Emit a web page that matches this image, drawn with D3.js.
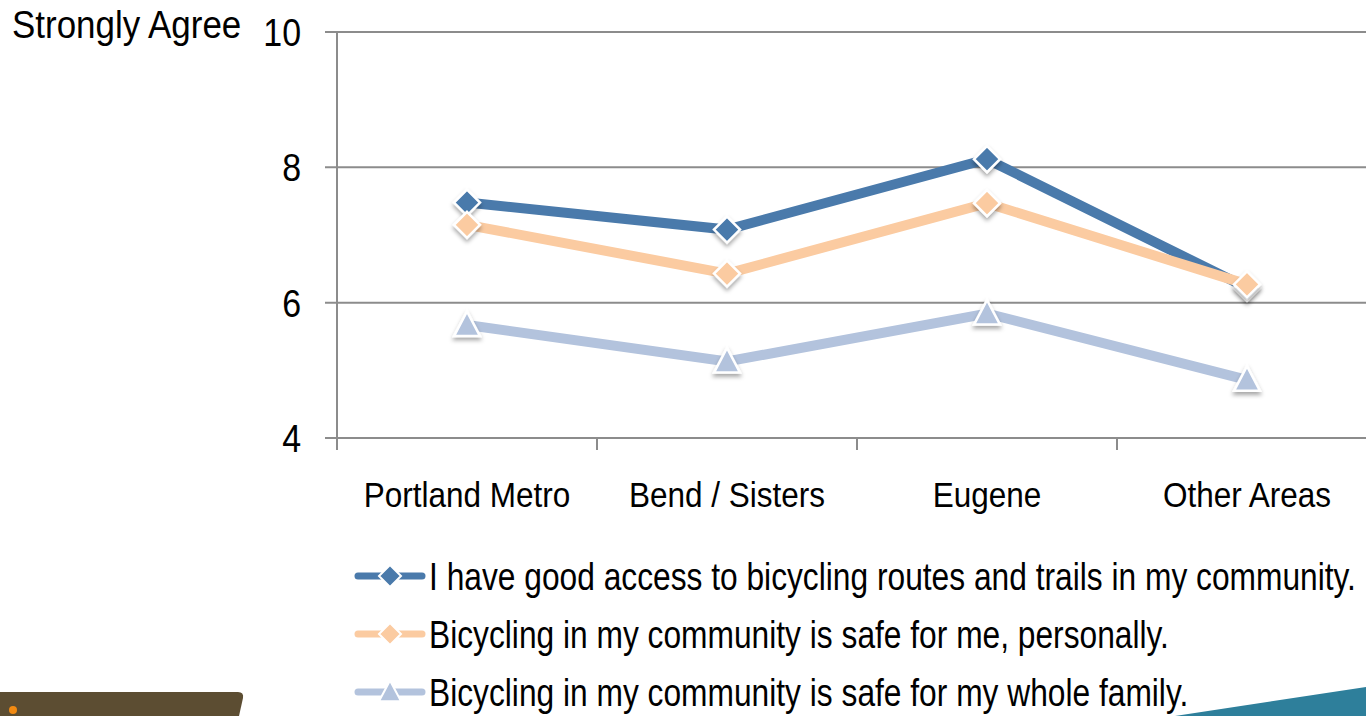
<!DOCTYPE html>
<html>
<head>
<meta charset="utf-8">
<script src="https://cdn.jsdelivr.net/npm/d3@7"></script>
<style>
  html, body { margin: 0; padding: 0; background: #fff; overflow: hidden; }
  svg { display: block; font-family: "Liberation Sans", Arial, sans-serif; }
</style>
</head>
<body>
<svg id="chart" width="1366" height="716"></svg>
<script>
const regions = ["Portland Metro", "Bend / Sisters", "Eugene", "Other Areas"];
const access = [7.48, 7.08, 8.12, 6.22];
const safeMe = [7.15, 6.43, 7.47, 6.27];
const safeFamily = [5.67, 5.13, 5.84, 4.86];
const yTicks = [4, 6, 8, 10];

const series = [
  {name: "I have good access to bicycling routes and trails in my community.", values: access, color: "#4a7aab", shape: "diamond"},
  {name: "Bicycling in my community is safe for me, personally.", values: safeMe, color: "#fbcba1", shape: "diamond"},
  {name: "Bicycling in my community is safe for my whole family.", values: safeFamily, color: "#b3c3dd", shape: "triangle"}
];

const svg = d3.select("#chart");
const plotLeft = 337, plotTop = 32, plotBottom = 438;

const x = d3.scaleBand().domain(regions).range([plotLeft, plotLeft + 1040]);
const y = d3.scaleLinear().domain([4, 10]).range([plotBottom, plotTop]);
const cx = (d, i) => x(regions[i]) + x.bandwidth() / 2;

// marker outline, r = half width
const marker = (shape, r) => shape === "triangle"
  ? `M0,${-r * 1.05}L${r},${r * 0.85}L${-r},${r * 0.85}Z`
  : `M0,${-r}L${r},0L0,${r}L${-r},0Z`;

// the source text is a condensed sans, so squeeze Liberation Sans sideways
const narrowText = (sel, px, py, sx) => sel.attr("transform", `translate(${px},${py}) scale(${sx},1)`);

const defs = svg.append("defs");
const f = defs.append("filter").attr("id", "shadow").attr("x", "-50%").attr("y", "-50%").attr("width", "200%").attr("height", "200%");
f.append("feDropShadow").attr("dx", 0).attr("dy", 3).attr("stdDeviation", 2).attr("flood-color", "#000").attr("flood-opacity", 0.35);

// slide decoration
svg.append("path")
  .attr("d", "M0,692 L238,692 Q244,692 243,698 L239,716 L0,716 Z")
  .attr("fill", "#5c4d32");
svg.append("circle").attr("cx", 13).attr("cy", 710).attr("r", 4).attr("fill", "#f28a12");
svg.append("path")
  .attr("d", "M1175,716 L1366,687 L1366,716 Z")
  .attr("fill", "#2e7f9b");

// grid
svg.append("g").selectAll("line")
  .data(yTicks)
  .enter().append("line")
    .attr("x1", plotLeft - 12).attr("x2", 1366)
    .attr("y1", d => y(d)).attr("y2", d => y(d))
    .attr("stroke", "#8c8c8c").attr("stroke-width", 2);

svg.append("line")
  .attr("x1", plotLeft).attr("x2", plotLeft)
  .attr("y1", y(10)).attr("y2", plotBottom + 12)
  .attr("stroke", "#8c8c8c").attr("stroke-width", 2);

svg.append("g").selectAll("line")
  .data(regions.map(r => x(r)).concat([x(regions[regions.length - 1]) + x.bandwidth()]))
  .enter().append("line")
    .attr("x1", d => d).attr("x2", d => d)
    .attr("y1", plotBottom).attr("y2", plotBottom + 12)
    .attr("stroke", "#8c8c8c").attr("stroke-width", 2);

// y tick labels
svg.append("g").selectAll("text")
  .data(yTicks)
  .enter().append("text")
    .each(function(d) { narrowText(d3.select(this), 301, y(d), 0.87); })
    .attr("dy", "0.36em")
    .attr("text-anchor", "end")
    .attr("font-size", 39)
    .text(d => d);

narrowText(svg.append("text"), 12, 38, 0.92)
  .attr("font-size", 38)
  .text("Strongly Agree");

// x labels
svg.append("g").selectAll("text")
  .data(regions)
  .enter().append("text")
    .each(function(d) { narrowText(d3.select(this), x(d) + x.bandwidth() / 2, 507, 0.9); })
    .attr("text-anchor", "middle")
    .attr("font-size", 35)
    .text(d => d);

const line = d3.line().x(cx).y(d => y(d));

series.forEach(s => {
  svg.append("path")
    .datum(s.values)
    .attr("d", line)
    .attr("fill", "none")
    .attr("stroke", s.color)
    .attr("stroke-width", 10)
    .attr("stroke-linejoin", "miter");
});

series.forEach(s => {
  svg.append("g").selectAll("path")
    .data(s.values)
    .enter().append("path")
      .attr("transform", (d, i) => `translate(${cx(d, i)},${y(d)})`)
      .attr("d", marker(s.shape, 13))
      .attr("fill", s.color)
      .attr("stroke", "#fff")
      .attr("stroke-width", 2.5)
      .attr("filter", "url(#shadow)");
});

// legend
const legendY = [576, 634, 692];
const lg = svg.append("g").selectAll("g")
  .data(series)
  .enter().append("g")
    .attr("transform", (d, i) => `translate(0,${legendY[i]})`);

lg.append("line")
  .attr("x1", 358).attr("x2", 422)
  .attr("y1", 0).attr("y2", 0)
  .attr("stroke", d => d.color)
  .attr("stroke-width", 7)
  .attr("stroke-linecap", "round");

lg.append("path")
  .attr("transform", "translate(390,0)")
  .attr("d", d => marker(d.shape, 11))
  .attr("fill", d => d.color)
  .attr("stroke", "#fff")
  .attr("stroke-width", 2);

lg.append("text")
  .each(function() { narrowText(d3.select(this), 429, 14, 0.835); })
  .attr("font-size", 38)
  .text(d => d.name);
</script>
</body>
</html>
